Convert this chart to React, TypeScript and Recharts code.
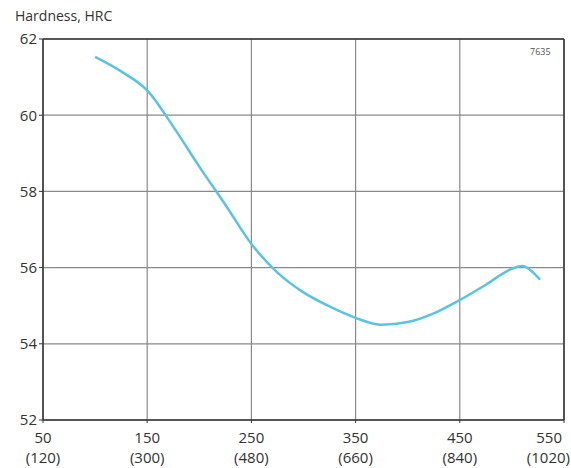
import { LineChart, Line, XAxis, YAxis, CartesianGrid, ReferenceLine } from "recharts";

const tempC = [100, 125, 150, 175, 200, 225, 250, 275, 300, 325, 350, 375, 400, 425, 450, 475, 500, 510, 520, 527];
const hardness = [61.53, 61.15, 60.65, 59.7, 58.65, 57.65, 56.62, 55.87, 55.35, 54.98, 54.68, 54.5, 54.57, 54.8, 55.15, 55.55, 55.97, 56.04, 55.88, 55.68];

const xTicks = [50, 150, 250, 350, 450, 550];
const xTicksF = ["(120)", "(300)", "(480)", "(660)", "(840)", "(1020)"];
const yTicks = [52, 54, 56, 58, 60, 62];

const data = tempC.map((t, i) => ({ t, hrc: hardness[i] }));

const font = "'Open Sans', sans-serif";

function TempTick({ x, y, payload }: any) {
  const i = xTicks.indexOf(payload.value);
  const last = i === xTicks.length - 1;
  // the last label sits left of its gridline so it stays inside the frame
  return (
    <g>
      <text x={last ? x - 2 : x} y={y + 18} textAnchor={last ? "end" : "middle"} fontSize={15} fill="#333" fontFamily={font}>
        {payload.value}
      </text>
      <text x={last ? x + 6 : x} y={y + 38} textAnchor={last ? "end" : "middle"} fontSize={15} fill="#333" fontFamily={font}>
        {xTicksF[i]}
      </text>
    </g>
  );
}

export default function App() {
  return (
    <div style={{ position: "absolute", left: 0, top: 0, width: 571, height: 468, background: "#fff" }}>
      <div style={{ position: "absolute", left: 15, top: 6, fontSize: 14, fontFamily: font, color: "#333" }}>
        Hardness, HRC
      </div>
      <div style={{ position: "absolute", left: 530, top: 45, fontSize: 9, fontFamily: font, color: "#555" }}>
        7635
      </div>
      <LineChart width={571} height={468} data={data} margin={{ top: 39, right: 7, bottom: 0, left: 0 }}>
        <CartesianGrid stroke="#8a8a8a" strokeWidth={1.2} />
        <XAxis
          dataKey="t"
          type="number"
          domain={[50, 550]}
          ticks={xTicks}
          height={48}
          tick={<TempTick />}
          tickSize={3}
          axisLine={{ stroke: "#333", strokeWidth: 1.5 }}
          tickLine={{ stroke: "#333" }}
          interval={0}
        />
        <YAxis
          type="number"
          domain={[52, 62]}
          ticks={yTicks}
          width={43}
          tickSize={4}
          axisLine={{ stroke: "#333", strokeWidth: 1.5 }}
          tickLine={{ stroke: "#333" }}
          tick={{ fontSize: 15, fill: "#333", fontFamily: font }}
          interval={0}
        />
        <ReferenceLine y={62} stroke="#333" strokeWidth={1.5} />
        <ReferenceLine x={550} stroke="#333" strokeWidth={1.5} />
        <Line
          dataKey="hrc"
          type="monotone"
          stroke="#5bc3e2"
          strokeWidth={2.5}
          dot={false}
          isAnimationActive={false}
        />
      </LineChart>
    </div>
  );
}
